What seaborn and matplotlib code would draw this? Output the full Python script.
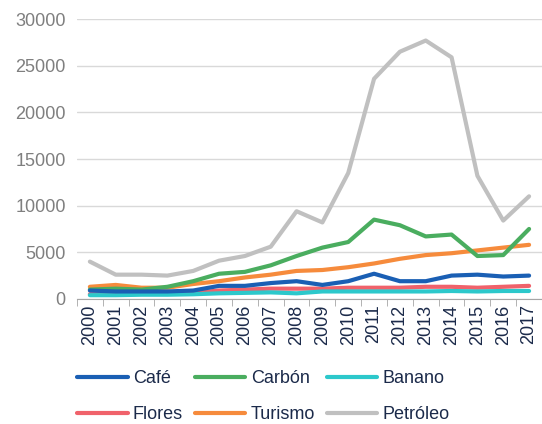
import pandas as pd
import matplotlib
matplotlib.use("Agg")
import matplotlib.pyplot as plt
import seaborn as sns
from matplotlib.ticker import FixedLocator

years = list(range(2000, 2018))
cafe = [900, 800, 800, 800, 900, 1400, 1400, 1700, 1900, 1500, 1900, 2700, 1900, 1900, 2500, 2600, 2400, 2500]
carbon = [1000, 1100, 1000, 1300, 1900, 2700, 2900, 3600, 4600, 5500, 6100, 8500, 7900, 6700, 6900, 4600, 4700, 7500]
banano = [400, 400, 450, 450, 500, 600, 650, 700, 600, 800, 800, 800, 800, 800, 850, 800, 850, 850]
flores = [500, 500, 550, 600, 650, 900, 1000, 1100, 1100, 1100, 1200, 1200, 1200, 1300, 1300, 1200, 1300, 1400]
turismo = [1300, 1500, 1200, 1200, 1600, 1900, 2300, 2600, 3000, 3100, 3400, 3800, 4300, 4700, 4900, 5200, 5500, 5800]
petroleo = [4000, 2600, 2600, 2500, 3000, 4100, 4600, 5600, 9400, 8200, 13500, 23600, 26500, 27700, 25900, 13200, 8400, 11000]

series = {"Café": cafe, "Carbón": carbon, "Banano": banano,
          "Flores": flores, "Turismo": turismo, "Petróleo": petroleo}
colors = {"Café": "#1a5fb4", "Carbón": "#4aad5f", "Banano": "#2cc8cb",
          "Flores": "#f0626b", "Turismo": "#f68b3c", "Petróleo": "#c0c0c0"}

df = pd.DataFrame([(k, y, v) for k, vals in series.items() for y, v in zip(years, vals)],
                  columns=["serie", "year", "value"])

sns.set_style("white")
plt.rcParams['font.family'] = ['Liberation Sans', 'DejaVu Sans']

fig = plt.figure(figsize=(5.42, 4.24), dpi=100)
ax = fig.add_axes([0.142, 0.295, 0.858, 0.66])

# petroleo drawn first so the others sit on top
order = ["Petróleo", "Turismo", "Flores", "Banano", "Carbón", "Café"]
for name in order:
    sub = df[df.serie == name]
    sns.lineplot(data=sub, x="year", y="value", color=colors[name], lw=3,
                 label=name, ax=ax, legend=False)

ax.set_xlim(1999.5, 2017.5)
ax.set_ylim(0, 30000)
ax.set_yticks(range(0, 30001, 5000))
ax.yaxis.grid(True, color="#d9d9d9", lw=1)
ax.set_xlabel("")
ax.set_ylabel("")
for s in ["top", "right", "left"]:
    ax.spines[s].set_visible(False)
ax.spines["bottom"].set_color("#a6a6a6")

ax.set_xticks(years)
ax.set_xticklabels([str(y) for y in years], rotation=90, color="#1b2a4a", fontsize=13)
ax.xaxis.set_minor_locator(FixedLocator([y - 0.5 for y in years] + [2017.5]))
ax.tick_params(axis="x", which="major", length=0, pad=4)
ax.tick_params(axis="x", which="minor", length=5, color="#a6a6a6", bottom=True)
ax.tick_params(axis="y", length=0, labelsize=13, labelcolor="#7f7f7f", pad=8)

lines = {l.get_label(): l for l in ax.get_lines()}
leg_order = ["Café", "Flores", "Carbón", "Turismo", "Banano", "Petróleo"]
fig.legend([lines[n] for n in leg_order], leg_order, ncol=3, frameon=False,
           loc="lower left", bbox_to_anchor=(0.112, -0.036), fontsize=13,
           handlelength=2.8, handletextpad=0.3, columnspacing=0.65,
           labelspacing=1.05, labelcolor="#1b2a4a")

fig.savefig("out.png", dpi=100)
